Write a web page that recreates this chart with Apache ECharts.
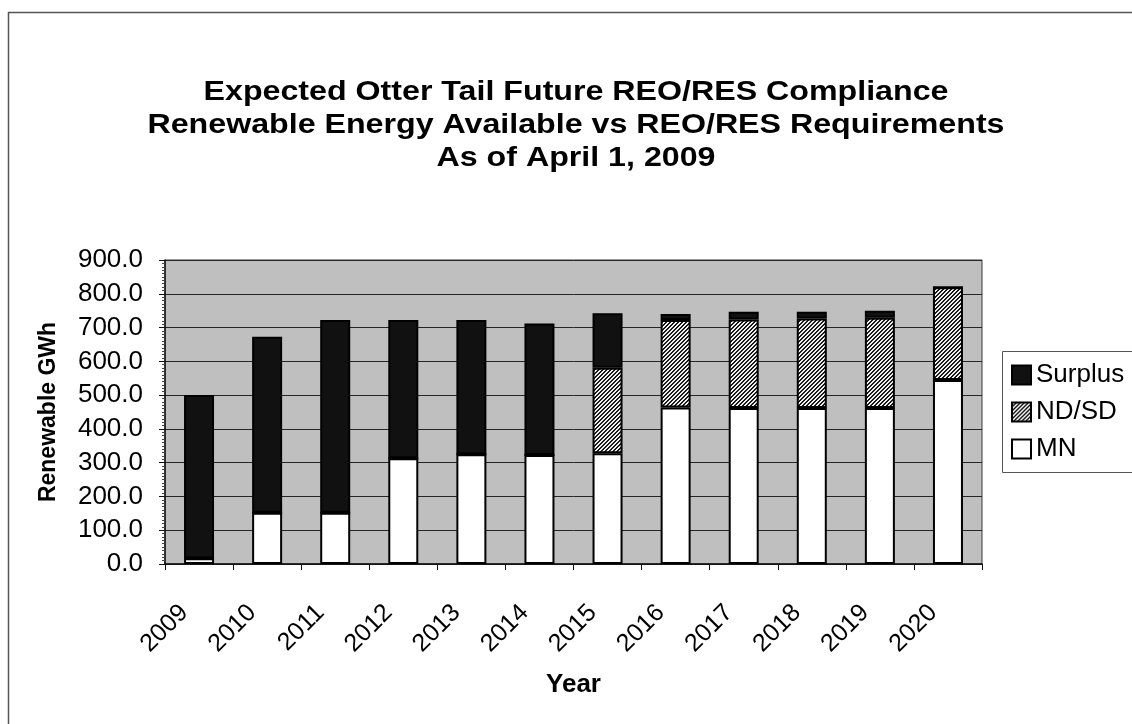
<!DOCTYPE html>
<html>
<head>
<meta charset="utf-8">
<script src="https://cdn.jsdelivr.net/npm/echarts@6/dist/echarts.min.js"></script>
<style>
html,body{margin:0;padding:0;background:#fff;}
#chart{width:1132px;height:724px;}
</style>
</head>
<body>
<div id="chart"></div>
<script>
var years = ['2009','2010','2011','2012','2013','2014','2015','2016','2017','2018','2019','2020'];
var mnValues = [17, 152, 152, 313, 325, 323, 328, 463, 462, 462, 462, 545];
var ndsdValues = [0, 0, 0, 0, 0, 0, 253, 259, 262, 265, 267, 274];
var surplusValues = [483, 521, 570, 409, 397, 389, 161, 18, 23, 20, 21, 0];
var yTicks = [0, 100, 200, 300, 400, 500, 600, 700, 800, 900];
var titleLines = [
  'Expected Otter Tail Future REO/RES Compliance',
  'Renewable Energy Available vs REO/RES Requirements',
  'As of April 1, 2009'
];

var font = '"Liberation Sans", Arial, sans-serif';

function makeHatch() {
  var c = document.createElement('canvas');
  c.width = 4; c.height = 4;
  var g = c.getContext('2d');
  g.fillStyle = '#f0f0f0';
  g.fillRect(0, 0, 4, 4);
  g.fillStyle = '#1a1a1a';
  for (var i = 0; i < 4; i++) {
    g.fillRect(i, 3 - i, 1, 1);
    g.fillRect((i + 1) % 4, 3 - i, 1, 1);
  }
  return c;
}
var hatch = makeHatch();

// horizontal stretch of the title text (the reference title is wider than plain Arial Bold)
var titleFontSize = 28;
var mc = document.createElement('canvas').getContext('2d');
mc.font = 'bold ' + titleFontSize + 'px ' + font;
var titleScaleX = 857 / mc.measureText(titleLines[1]).width;

var chart = echarts.init(document.getElementById('chart'), null, {renderer: 'canvas'});
var option = {
  animation: false,
  backgroundColor: '#ffffff',
  textStyle: {fontFamily: font},
  legend: {
    data: ['Surplus', 'ND/SD', 'MN'],
    orient: 'vertical',
    left: 1006,
    top: 357,
    itemWidth: 19,
    itemHeight: 19,
    itemGap: 11,
    icon: 'rect',
    textStyle: {fontFamily: font, fontSize: 26, color: '#000', padding: [0, 0, 0, 0]},
    selectedMode: false
  },
  grid: {
    left: 165, right: 150, top: 260, bottom: 160,
    show: true,
    backgroundColor: '#bfbfbf',
    borderColor: '#3a3a3a',
    borderWidth: 1
  },
  xAxis: {
    type: 'category',
    data: years,
    name: 'Year',
    nameLocation: 'middle',
    nameGap: 108,
    nameTextStyle: {fontFamily: font, fontSize: 26, fontWeight: 'bold', color: '#000'},
    axisLine: {lineStyle: {color: '#111', width: 1.5}},
    axisTick: {show: true, length: 6, lineStyle: {color: '#111'}},
    axisLabel: {
      rotate: 45, margin: 30, fontSize: 25, color: '#000', fontFamily: font,
      padding: [0, 21, 0, 0]
    }
  },
  yAxis: {
    type: 'value',
    min: 0, max: 900, interval: 100,
    name: 'Renewable GWh',
    nameLocation: 'middle',
    nameGap: 105,
    nameTextStyle: {fontFamily: font, fontSize: 23, fontWeight: 'bold', color: '#000'},
    axisLine: {show: true, lineStyle: {color: '#111', width: 1.5}},
    axisTick: {show: true, length: 6, lineStyle: {color: '#111'}},
    minorTick: {show: true, splitNumber: 10, length: 3, lineStyle: {color: '#444'}},
    axisLabel: {
      fontSize: 26, color: '#000', fontFamily: font, margin: 22,
      formatter: function (v) { return yTicks.indexOf(v) >= 0 ? v.toFixed(1) : ''; }
    },
    splitLine: {show: true, lineStyle: {color: '#262626', width: 1}}
  },
  series: [
    {
      name: 'MN', type: 'bar', stack: 'total', data: mnValues,
      barWidth: 30,
      itemStyle: {color: '#ffffff', borderColor: '#000', borderWidth: 2}
    },
    {
      name: 'ND/SD', type: 'bar', stack: 'total', data: ndsdValues,
      barWidth: 30,
      itemStyle: {color: {image: hatch, repeat: 'repeat'}, borderColor: '#000', borderWidth: 2}
    },
    {
      name: 'Surplus', type: 'bar', stack: 'total', data: surplusValues,
      barWidth: 30,
      itemStyle: {color: '#111111', borderColor: '#000', borderWidth: 2}
    }
  ],
  graphic: [
    {
      type: 'rect', silent: true, z: -1,
      shape: {x: 8.5, y: 12.5, width: 1140, height: 730},
      style: {fill: null, stroke: '#555', lineWidth: 1.5}
    },
    {
      type: 'rect', silent: true, z: -1,
      shape: {x: 1002.5, y: 351.5, width: 140, height: 121},
      style: {fill: '#fff', stroke: '#555', lineWidth: 1}
    },
    {
      type: 'text', silent: true,
      x: 576, y: 125, scaleX: titleScaleX, scaleY: 1,
      style: {
        text: titleLines.join('\n'),
        x: 0, y: 0,
        align: 'center', verticalAlign: 'middle',
        font: 'bold ' + titleFontSize + 'px ' + font,
        lineHeight: 33,
        fill: '#000'
      }
    }
  ]
};
chart.setOption(option);
</script>
</body>
</html>
